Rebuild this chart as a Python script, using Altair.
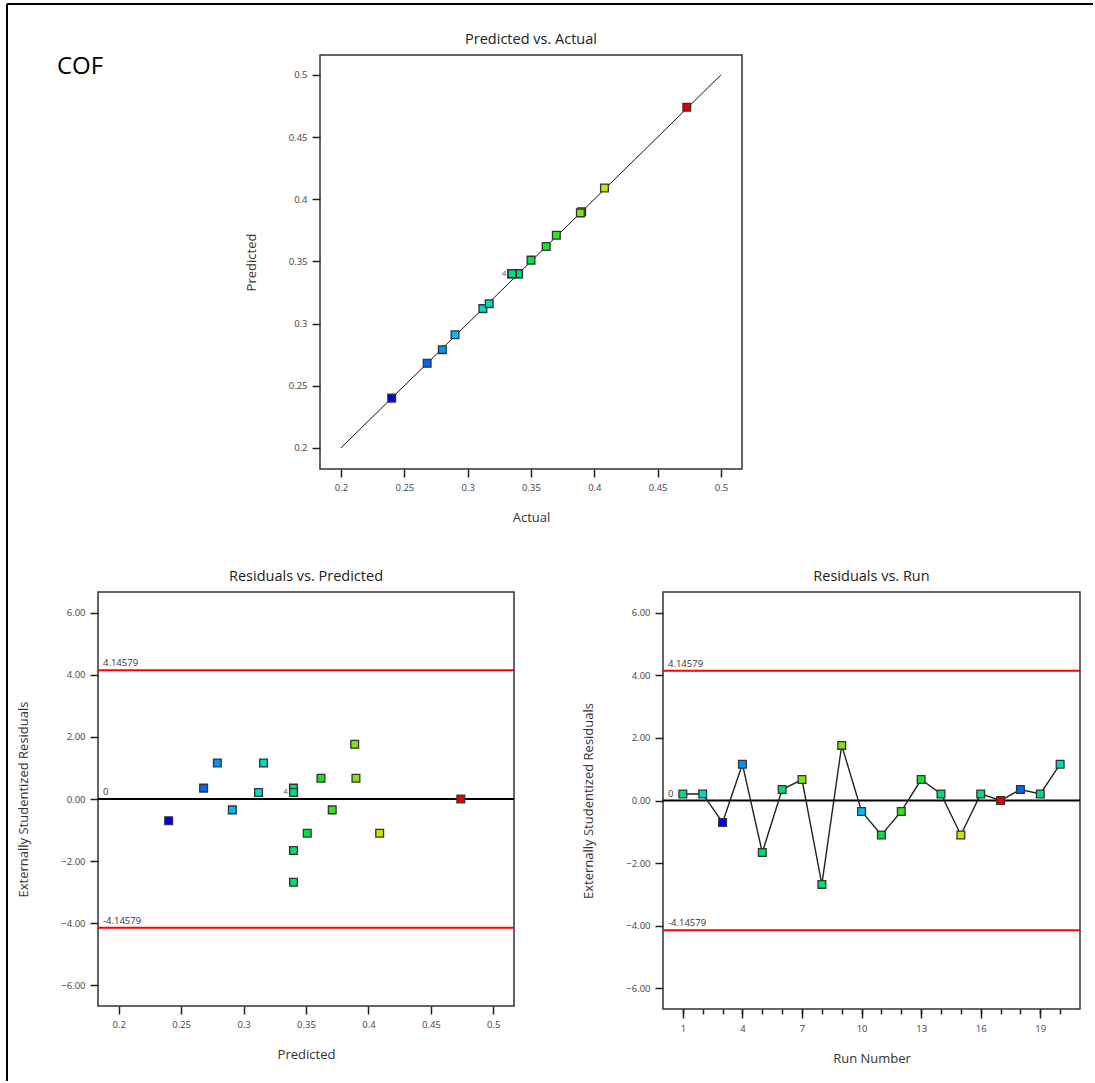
import altair as alt
import pandas as pd

# ---------------- data ----------------
panel_label = ["COF"]
run = list(range(1, 21))
actual = [0.335, 0.312, 0.240, 0.280, 0.3398, 0.3402, 0.390, 0.3400, 0.389, 0.290,
          0.350, 0.370, 0.362, 0.335, 0.408, 0.335, 0.473, 0.268, 0.335, 0.317]
predicted = [0.340, 0.312, 0.240, 0.279, 0.340, 0.340, 0.390, 0.340, 0.389, 0.291,
             0.351, 0.371, 0.362, 0.340, 0.409, 0.340, 0.474, 0.268, 0.340, 0.316]
residual = [0.21, 0.21, -0.70, 1.16, -1.66, 0.35, 0.67, -2.68, 1.76, -0.35,
            -1.10, -0.35, 0.67, 0.21, -1.10, 0.21, 0.00, 0.35, 0.21, 1.16]
limit_values = [4.14579, -4.14579]
limit_labels = ["4.14579", "-4.14579"]
zero_values = [0]
zero_labels = ["0"]
diag = [0.2, 0.5]
pv_ticks = [0.2, 0.25, 0.3, 0.35, 0.4, 0.45, 0.5]
res_ticks = [-6, -4, -2, 0, 2, 4, 6]
run_major = [1, 4, 7, 10, 13, 16, 19]
run_minor = list(range(1, 21))

FONT = "Open Sans"

df = pd.DataFrame({"run": run, "actual": actual, "predicted": predicted, "residual": residual})

# overlap counts (for the small "4" markers)
top_grp = df.groupby(["actual", "predicted"]).size().reset_index(name="n")
top_grp = top_grp[top_grp["n"] > 1].assign(t=lambda d: d["n"].astype(str))
bl_grp = df.groupby(["predicted", "residual"]).size().reset_index(name="n")
bl_grp = bl_grp[bl_grp["n"] > 1].assign(t=lambda d: d["n"].astype(str))

limits_df = pd.DataFrame({"v": limit_values, "label": limit_labels})
zero_df = pd.DataFrame({"v": zero_values, "label": zero_labels})
diag_df = pd.DataFrame({"a": diag, "p": diag})

color = alt.Color(
    "actual:Q",
    scale=alt.Scale(domain=[0.24, 0.298, 0.356, 0.415, 0.473],
                    range=["#0000f0", "#00d8ff", "#00e030", "#e0e800", "#e00000"],
                    interpolate="rgb"),
    legend=None,
)
SQ = dict(size=60, filled=True, stroke="#333333", strokeWidth=1.3, opacity=1)

# ---------------- spacer with "COF" and outer border ----------------
one = pd.DataFrame({"t": panel_label})
cof = alt.Chart(one).mark_text(align="left", baseline="alphabetic", fontSize=24,
                               font=FONT, color="black").encode(
    x=alt.value(-41), y=alt.value(19), text="t:N")
border_left = alt.Chart(one).mark_rule(color="black", strokeWidth=2).encode(
    x=alt.value(-91), y=alt.value(-51), y2=alt.value(1026))
border_top = alt.Chart(one).mark_rule(color="black", strokeWidth=2).encode(
    x=alt.value(-91), x2=alt.value(995), y=alt.value(-51))
spacer = alt.layer(cof, border_left, border_top).properties(
    width=73, height=414, view=alt.ViewBackground(stroke="transparent"))

# ---------------- Predicted vs. Actual ----------------
xs_top = alt.Scale(domain=[0.1834, 0.5166], nice=False, zero=False)
ys_top = alt.Scale(domain=[0.183, 0.516], nice=False, zero=False)
pv_axis_x = alt.Axis(values=pv_ticks, title="Actual", format="~g")
pv_axis_y = alt.Axis(values=pv_ticks, title="Predicted", format="~g")

diag_line = alt.Chart(diag_df).mark_line(color="#111111", strokeWidth=1).encode(
    x=alt.X("a:Q", scale=xs_top, axis=pv_axis_x),
    y=alt.Y("p:Q", scale=ys_top, axis=pv_axis_y))
top_pts = alt.Chart(df).mark_square(**SQ).encode(
    x=alt.X("actual:Q", scale=xs_top, axis=pv_axis_x),
    y=alt.Y("predicted:Q", scale=ys_top, axis=pv_axis_y),
    color=color, order="run:Q")
top_lbl = alt.Chart(top_grp).mark_text(fontSize=8, color="#555555", dx=-8, align="center",
                                       baseline="middle", font=FONT).encode(
    x=alt.X("actual:Q", scale=xs_top), y=alt.Y("predicted:Q", scale=ys_top), text="t:N")
top = alt.layer(diag_line, top_pts, top_lbl).properties(
    width=422, height=414, title="Predicted vs. Actual")

# ---------------- Residuals vs. Predicted ----------------
ys_res = alt.Scale(domain=[-6.66, 6.66], nice=False, zero=False)
y_res_axis = alt.Axis(values=res_ticks, format=".2f", title="Externally Studentized Residuals")
xs_bl = alt.Scale(domain=[0.1834, 0.5166], nice=False, zero=False)


def ref_layers():
    lim = alt.Chart(limits_df).mark_rule(color="#ff0000", strokeWidth=2).encode(
        y=alt.Y("v:Q", scale=ys_res, axis=y_res_axis))
    zer = alt.Chart(zero_df).mark_rule(color="#000000", strokeWidth=2).encode(
        y=alt.Y("v:Q", scale=ys_res))
    lab = alt.Chart(pd.concat([limits_df, zero_df])).mark_text(
        align="left", baseline="alphabetic", fontSize=9.5, color="#333333", dy=-4,
        font=FONT).encode(x=alt.value(5), y=alt.Y("v:Q", scale=ys_res), text="label:N")
    return [lim, zer, lab]


bl_pts = alt.Chart(df).mark_square(**SQ).encode(
    x=alt.X("predicted:Q", scale=xs_bl,
            axis=alt.Axis(values=pv_ticks, title="Predicted", format="~g")),
    y=alt.Y("residual:Q", scale=ys_res, axis=y_res_axis),
    color=color, order="run:Q")
bl_lbl = alt.Chart(bl_grp).mark_text(fontSize=8, color="#555555", dx=-8, align="center",
                                     baseline="middle", font=FONT).encode(
    x=alt.X("predicted:Q", scale=xs_bl), y=alt.Y("residual:Q", scale=ys_res), text="t:N")
bl = alt.layer(*ref_layers(), bl_pts, bl_lbl).properties(
    width=416, height=414, title="Residuals vs. Predicted")

# ---------------- Residuals vs. Run ----------------
xs_run = alt.Scale(domain=[0, 21], nice=False, zero=False)
run_line = alt.Chart(df).mark_line(color="#222222", strokeWidth=1.4).encode(
    x=alt.X("run:Q", scale=xs_run,
            axis=alt.Axis(values=run_major, title="Run Number", tickSize=9, orient="bottom")),
    y=alt.Y("residual:Q", scale=ys_res, axis=y_res_axis),
    order="run:Q")
run_pts = alt.Chart(df).mark_square(**SQ).encode(
    x=alt.X("run:Q", scale=xs_run,
            axis=alt.Axis(values=run_minor, labels=False, title=None, tickSize=5,
                          orient="bottom")),
    y=alt.Y("residual:Q", scale=ys_res),
    color=color, order="run:Q")
br = alt.layer(*ref_layers(), run_line, run_pts).resolve_axis(x="independent").properties(
    width=417, height=417, title="Residuals vs. Run")

row1 = alt.hconcat(spacer, top, spacing=149, bounds="flush")
row2 = alt.hconcat(bl, br, spacing=149, bounds="flush")

chart = alt.vconcat(
    row1, row2, spacing=537, bounds="flush",
).properties(
    padding={"left": 5, "top": 2, "right": 0, "bottom": 0},
    background="white",
).configure_view(
    stroke="#333333", strokeWidth=1.5
).configure_axis(
    labelFont=FONT, labelFontSize=9.5, labelColor="#444444", labelPadding=5,
    labelFlush=False,
    titleFont=FONT, titleFontSize=13, titleFontWeight="normal", titleColor="#333333",
    titlePadding=20,
    tickColor="#222222", tickWidth=1.5, tickSize=8, domain=False, grid=False,
).configure_axisY(
    titlePadding=30
).configure_title(
    font=FONT, fontSize=14.5, fontWeight="normal", color="#222222", offset=8
)

chart.save("out.html", embed_options={"renderer": "svg", "actions": False})
